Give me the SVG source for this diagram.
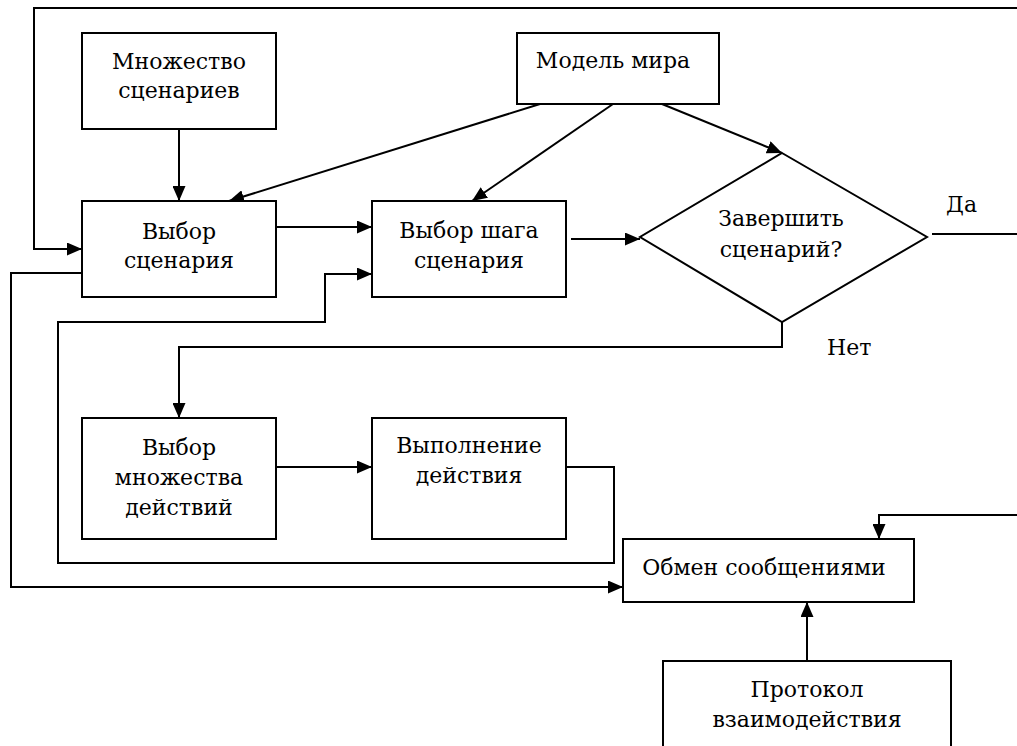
<svg xmlns="http://www.w3.org/2000/svg" width="1017" height="746" viewBox="0 0 1017 746">
<style>
.box{fill:#fff;stroke:#000;stroke-width:2}
.ln{fill:none;stroke:#000;stroke-width:2}
text{font-family:'DejaVu Serif','Liberation Serif',serif;font-size:22px;fill:#000}
.c{text-anchor:middle}
</style>
<defs>
<marker id="ah" markerUnits="userSpaceOnUse" markerWidth="15" markerHeight="13" refX="15" refY="6.5" orient="auto">
<path d="M0,0 L15,6.5 L0,13 z" fill="#000"/>
</marker>
</defs>
<rect width="1017" height="746" fill="#fff"/>
<g id="connectors">
<path class="ln" d="M1017,8 H34 V249 H82" marker-end="url(#ah)"/>
<path class="ln" d="M932,234 H1017"/>
<path class="ln" d="M179,129 V201" marker-end="url(#ah)"/>
<path class="ln" d="M540,104 L229,201" marker-end="url(#ah)"/>
<path class="ln" d="M613,104 L472,201" marker-end="url(#ah)"/>
<path class="ln" d="M662,104 L782,153" marker-end="url(#ah)"/>
<path class="ln" d="M276,227 H372" marker-end="url(#ah)"/>
<path class="ln" d="M571,239 H640" marker-end="url(#ah)"/>
<path class="ln" d="M782,322 V347 H179 V418" marker-end="url(#ah)"/>
<path class="ln" d="M276,467 H372" marker-end="url(#ah)"/>
<path class="ln" d="M566,467 H614 V563 H58 V322 H325 V274 H372" marker-end="url(#ah)"/>
<path class="ln" d="M82,273 H11 V587 H623" marker-end="url(#ah)"/>
<path class="ln" d="M1017,515 H879 V539" marker-end="url(#ah)"/>
<path class="ln" d="M807,661 V602" marker-end="url(#ah)"/>
</g>
<g id="mnozhestvo">
<rect class="box" x="82" y="33" width="194" height="96"/>
<text class="c" x="179" y="69">Множество</text>
<text class="c" x="179" y="98">сценариев</text>
</g>
<g id="model">
<rect class="box" x="517" y="33" width="202" height="71"/>
<text class="c" x="613" y="68">Модель мира</text>
</g>
<g id="vybor-scenariya">
<rect class="box" x="82" y="201" width="194" height="96"/>
<text class="c" x="179" y="239">Выбор</text>
<text class="c" x="179" y="268">сценария</text>
</g>
<g id="vybor-shaga">
<rect class="box" x="372" y="201" width="194" height="96"/>
<text class="c" x="469" y="238">Выбор шага</text>
<text class="c" x="469" y="268">сценария</text>
</g>
<g id="zavershit">
<polygon class="box" points="782,153 927,237 782,322 640,237"/>
<text class="c" x="781" y="226">Завершить</text>
<text class="c" x="781" y="257">сценарий?</text>
</g>
<g id="label-da"><text x="946" y="212">Да</text></g>
<g id="label-net"><text x="827" y="355">Нет</text></g>
<g id="vybor-mnozhestva">
<rect class="box" x="82" y="418" width="194" height="121"/>
<text class="c" x="179" y="455">Выбор</text>
<text class="c" x="179" y="485">множества</text>
<text class="c" x="179" y="515">действий</text>
</g>
<g id="vypolnenie">
<rect class="box" x="372" y="418" width="194" height="121"/>
<text class="c" x="469" y="453">Выполнение</text>
<text class="c" x="469" y="483">действия</text>
</g>
<g id="obmen">
<rect class="box" x="623" y="539" width="291" height="63"/>
<text class="c" x="764" y="575">Обмен сообщениями</text>
</g>
<g id="protokol">
<rect class="box" x="663" y="661" width="288" height="100"/>
<text class="c" x="807" y="697">Протокол</text>
<text class="c" x="807" y="727">взаимодействия</text>
</g>
</svg>
